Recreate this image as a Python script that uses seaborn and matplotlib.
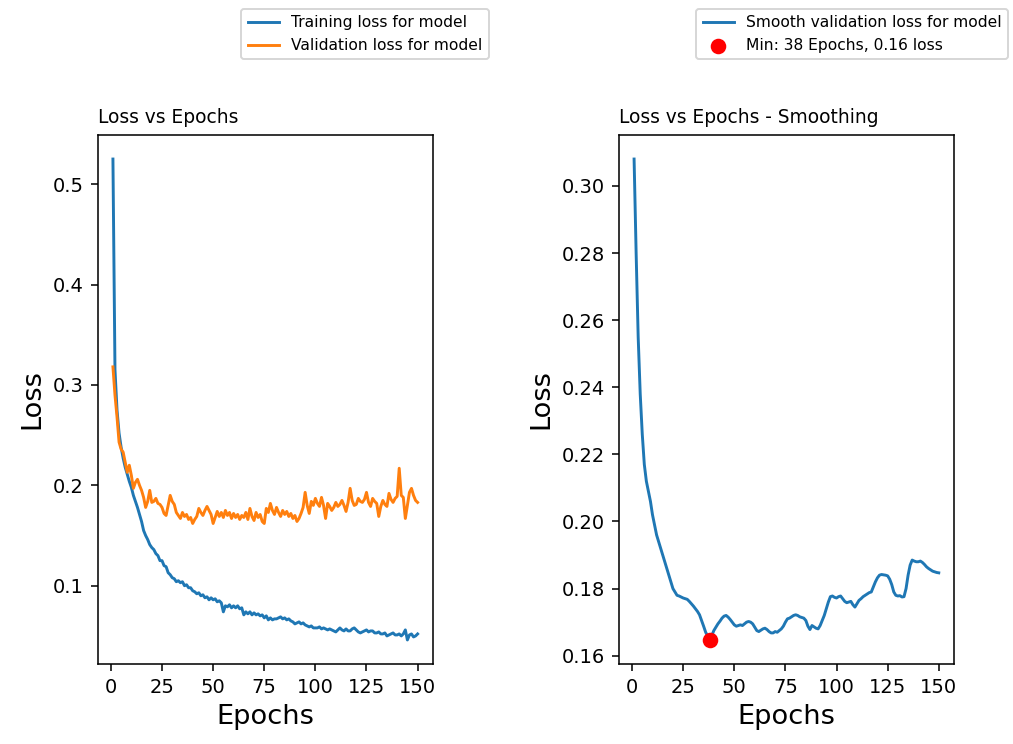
import numpy as np
import matplotlib
matplotlib.use("Agg")
import matplotlib.pyplot as plt
import seaborn as sns

epochs = list(range(1, 151))

train_loss = [
    0.525, 0.315, 0.275, 0.252, 0.238, 0.227, 0.218, 0.211, 0.204, 0.198,
    0.190, 0.184, 0.178, 0.171, 0.164, 0.155, 0.150, 0.146, 0.141, 0.138,
    0.136, 0.132, 0.130, 0.125, 0.125, 0.120, 0.119, 0.113, 0.111, 0.108,
    0.107, 0.104, 0.105, 0.103, 0.104, 0.100, 0.101, 0.098, 0.098, 0.095,
    0.094, 0.092, 0.093, 0.090, 0.091, 0.088, 0.089, 0.086, 0.088, 0.086,
    0.087, 0.084, 0.085, 0.083, 0.074, 0.080, 0.079, 0.081, 0.078, 0.080,
    0.078, 0.080, 0.077, 0.078, 0.071, 0.074, 0.072, 0.074, 0.071, 0.073,
    0.071, 0.072, 0.070, 0.071, 0.068, 0.070, 0.066, 0.068, 0.066, 0.067,
    0.067, 0.068, 0.069, 0.067, 0.068, 0.066, 0.067, 0.065, 0.064, 0.062,
    0.063, 0.064, 0.062, 0.063, 0.061, 0.060, 0.059, 0.060, 0.058, 0.058,
    0.058, 0.059, 0.057, 0.058, 0.057, 0.056, 0.057, 0.056, 0.055, 0.054,
    0.056, 0.058, 0.056, 0.055, 0.057, 0.055, 0.055, 0.057, 0.058, 0.056,
    0.054, 0.053, 0.054, 0.055, 0.056, 0.054, 0.055, 0.055, 0.053, 0.053,
    0.054, 0.052, 0.052, 0.053, 0.050, 0.051, 0.052, 0.053, 0.051, 0.051,
    0.052, 0.050, 0.052, 0.056, 0.046, 0.051, 0.052, 0.049, 0.050, 0.052,
]

val_loss = [
    0.318, 0.290, 0.268, 0.243, 0.236, 0.233, 0.223, 0.213, 0.220, 0.210,
    0.197, 0.203, 0.206, 0.200, 0.195, 0.188, 0.178, 0.184, 0.195, 0.183,
    0.184, 0.187, 0.182, 0.181, 0.178, 0.172, 0.170, 0.180, 0.190, 0.184,
    0.181, 0.173, 0.170, 0.167, 0.173, 0.169, 0.171, 0.166, 0.168, 0.162,
    0.166, 0.169, 0.177, 0.173, 0.170, 0.175, 0.179, 0.175, 0.171, 0.162,
    0.168, 0.174, 0.169, 0.173, 0.168, 0.175, 0.170, 0.173, 0.167, 0.172,
    0.168, 0.171, 0.166, 0.170, 0.168, 0.173, 0.166, 0.177, 0.169, 0.165,
    0.173, 0.168, 0.171, 0.164, 0.162, 0.177, 0.173, 0.182, 0.175, 0.171,
    0.178, 0.173, 0.169, 0.175, 0.171, 0.174, 0.169, 0.172, 0.167, 0.170,
    0.164, 0.167, 0.172, 0.178, 0.193, 0.180, 0.172, 0.184, 0.180, 0.187,
    0.182, 0.179, 0.188, 0.180, 0.167, 0.182, 0.179, 0.175, 0.178, 0.183,
    0.179, 0.181, 0.185, 0.180, 0.174, 0.183, 0.197, 0.185, 0.180, 0.181,
    0.187, 0.184, 0.183, 0.186, 0.193, 0.183, 0.179, 0.187, 0.184, 0.182,
    0.169, 0.179, 0.185, 0.181, 0.179, 0.192, 0.186, 0.183, 0.187, 0.189,
    0.217, 0.190, 0.188, 0.167, 0.180, 0.193, 0.197, 0.190, 0.185, 0.183,
]

smooth_val_loss = [
    0.308, 0.280, 0.255, 0.238, 0.226, 0.217, 0.212, 0.209, 0.206, 0.202,
    0.199, 0.196, 0.194, 0.192, 0.190, 0.188, 0.186, 0.184, 0.182, 0.180,
    0.1790, 0.1780, 0.1778, 0.1775, 0.1772, 0.1770, 0.1768, 0.1762, 0.1755, 0.1748,
    0.1740, 0.1732, 0.1722, 0.1705, 0.1688, 0.1670, 0.1658, 0.1647, 0.1660, 0.1675,
    0.1685, 0.1695, 0.1703, 0.1712, 0.1718, 0.1720, 0.1715, 0.1708, 0.1700, 0.1692,
    0.1688, 0.1690, 0.1692, 0.1690, 0.1695, 0.1700, 0.1702, 0.1700, 0.1695, 0.1685,
    0.1675, 0.1672, 0.1676, 0.1680, 0.1682, 0.1678, 0.1672, 0.1668, 0.1668, 0.1672,
    0.1670, 0.1675, 0.1680, 0.1688, 0.1700, 0.1710, 0.1712, 0.1716, 0.1720, 0.1722,
    0.1720, 0.1716, 0.1714, 0.1712, 0.1705, 0.1688, 0.1678, 0.1690, 0.1686, 0.1682,
    0.1680, 0.1690, 0.1705, 0.1720, 0.1740, 0.1760, 0.1776, 0.1778, 0.1774, 0.1772,
    0.1776, 0.1778, 0.1770, 0.1762, 0.1758, 0.1760, 0.1762, 0.1752, 0.1745, 0.1755,
    0.1765, 0.1770, 0.1776, 0.1780, 0.1784, 0.1788, 0.1790, 0.1805, 0.1820, 0.1832,
    0.1840, 0.1842, 0.1841, 0.1840, 0.1838, 0.1828, 0.1812, 0.1790, 0.1780, 0.1778,
    0.1779, 0.1775, 0.1776, 0.1800, 0.1840, 0.1870, 0.1885, 0.1882, 0.1880, 0.1880,
    0.1882, 0.1878, 0.1872, 0.1865, 0.1860, 0.1856, 0.1852, 0.1850, 0.1848, 0.1847,
]

DPI = 140
W, H = 1013, 744
fig, (ax1, ax2) = plt.subplots(1, 2, figsize=(W / DPI, H / DPI), dpi=DPI)
fig.subplots_adjust(left=97.7 / W, right=954 / W, bottom=1 - 664 / H,
                    top=1 - 135 / H, wspace=0.555)

# Left panel
sns.lineplot(x=epochs, y=train_loss, ax=ax1, color="#1f77b4", linewidth=1.5,
             label="Training loss for model")
sns.lineplot(x=epochs, y=val_loss, ax=ax1, color="#ff7f0e", linewidth=1.5,
             label="Validation loss for model")
ax1.set_title("Loss vs Epochs", loc="left", fontsize=9.6)
ax1.set_xlabel("Epochs", fontsize=14)
ax1.set_ylabel("Loss", fontsize=14)
ax1.set_xticks([0, 25, 50, 75, 100, 125, 150])
ax1.set_yticks([0.1, 0.2, 0.3, 0.4, 0.5])
ax1.legend(loc="upper center", bbox_to_anchor=(365 / W, 1 - 9 / H),
           bbox_transform=fig.transFigure, borderaxespad=0, fontsize=8)

# Right panel
min_idx = int(np.argmin(smooth_val_loss))
min_epoch = epochs[min_idx]
min_loss = smooth_val_loss[min_idx]
sns.lineplot(x=epochs, y=smooth_val_loss, ax=ax2, color="#1f77b4", linewidth=1.5,
             label="Smooth validation loss for model")
sns.scatterplot(x=[min_epoch], y=[min_loss], ax=ax2, color="red", s=64,
                edgecolor="red", linewidth=0, zorder=3,
                label=f"Min: {min_epoch} Epochs, {min_loss:.2f} loss")
ax2.set_title("Loss vs Epochs - Smoothing", loc="left", fontsize=9.6)
ax2.set_xlabel("Epochs", fontsize=14)
ax2.set_ylabel("Loss", fontsize=14)
ax2.set_xticks([0, 25, 50, 75, 100, 125, 150])
ax2.set_yticks([0.16, 0.18, 0.20, 0.22, 0.24, 0.26, 0.28, 0.30])
ax2.legend(loc="upper center", bbox_to_anchor=(852.2 / W, 1 - 9 / H),
           bbox_transform=fig.transFigure, borderaxespad=0, fontsize=8)

for ax in (ax1, ax2):
    ax.tick_params(labelsize=10)

fig.savefig("out.png", dpi=DPI)
